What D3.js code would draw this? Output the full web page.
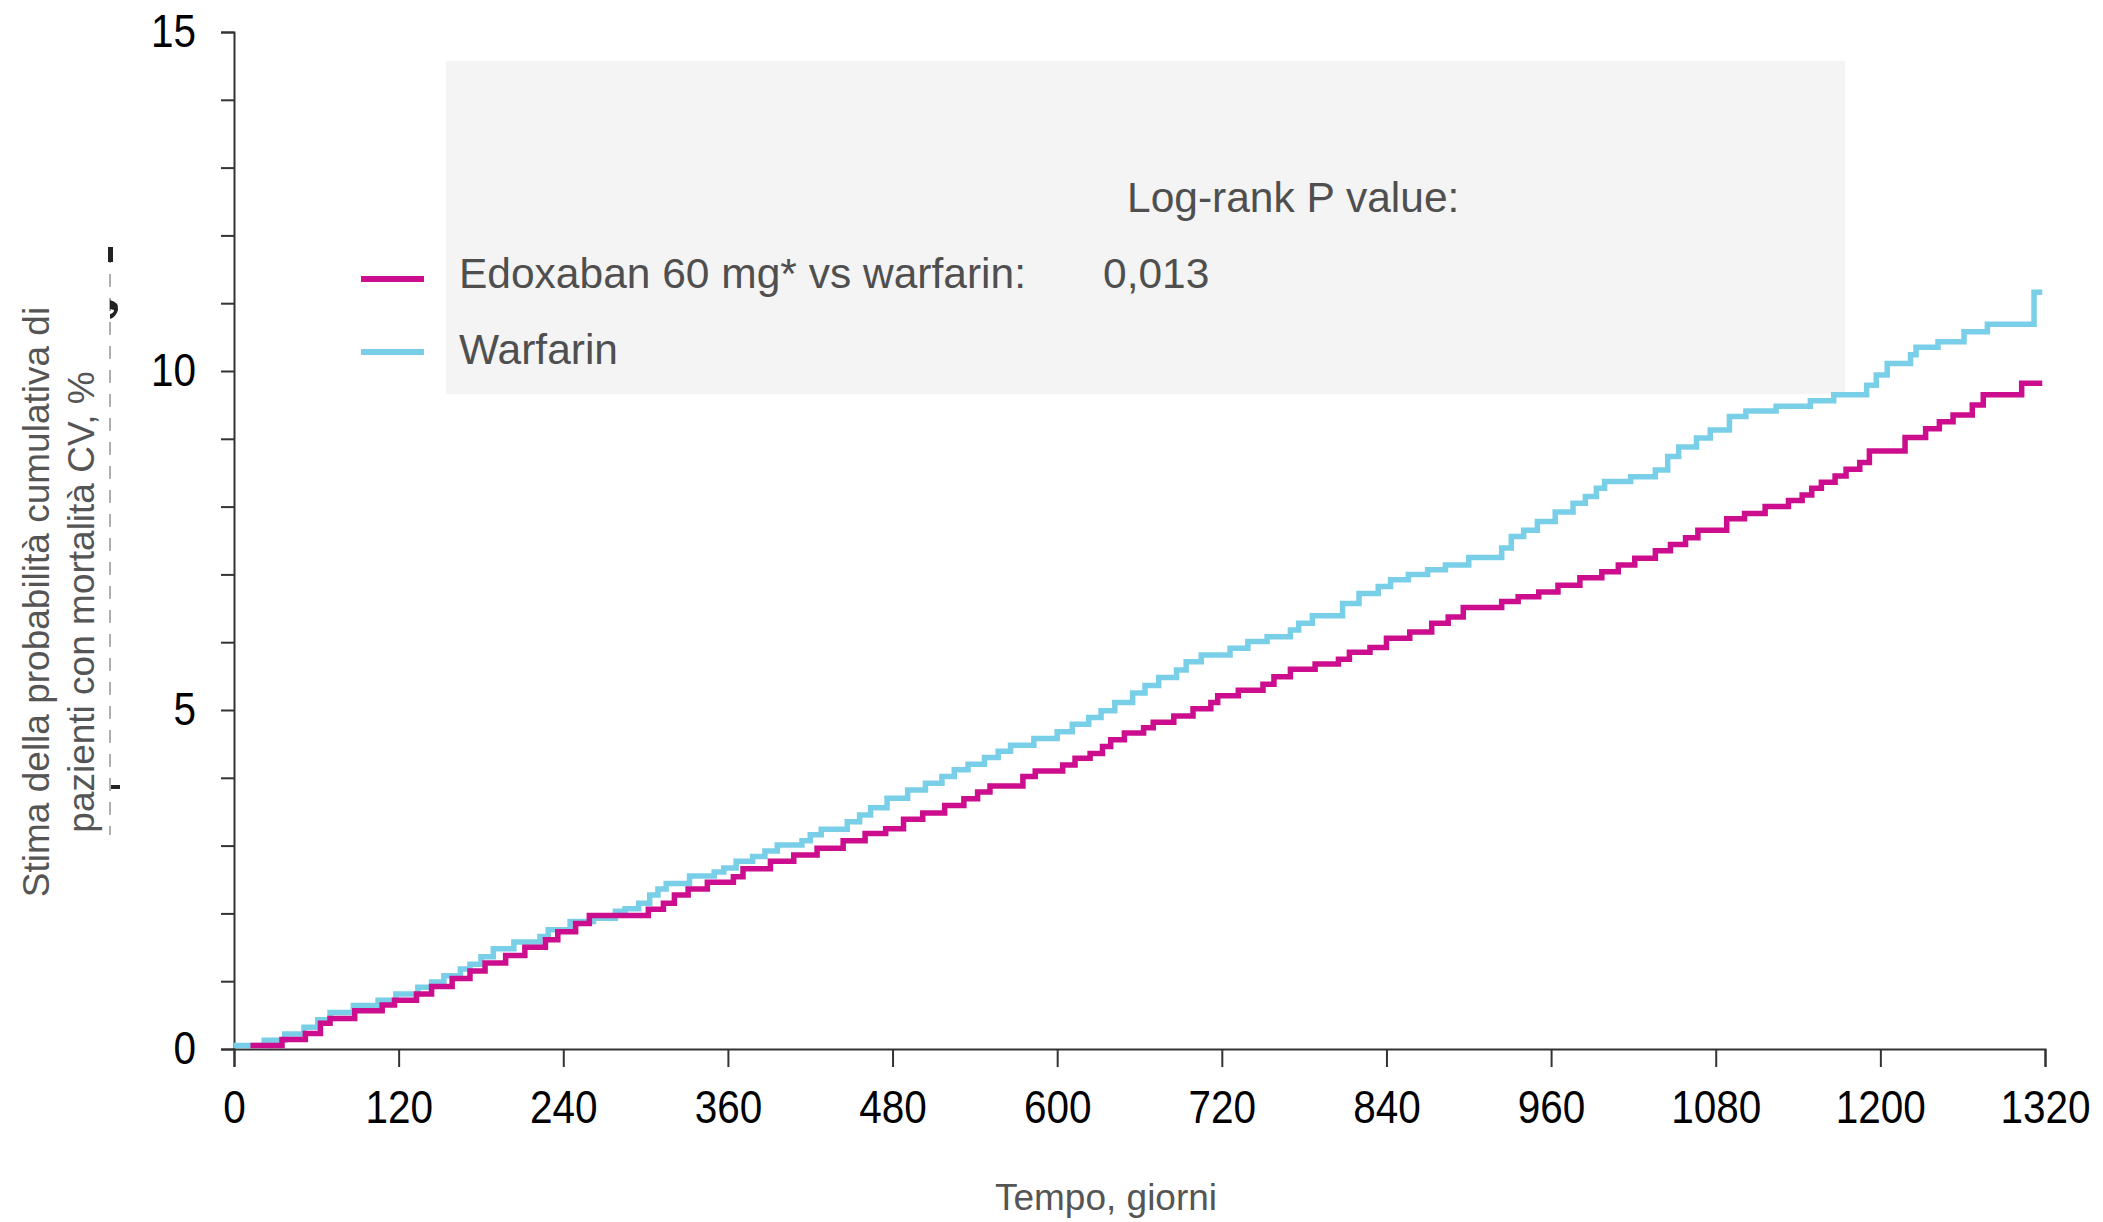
<!DOCTYPE html>
<html>
<head>
<meta charset="utf-8">
<script src="https://cdn.jsdelivr.net/npm/d3@7"></script>
<style>
  html, body { margin: 0; padding: 0; background: #fff; }
  svg { display: block; }
  text { font-family: "Liberation Sans", Arial, sans-serif; }
</style>
</head>
<body>
<svg id="chart" width="2103" height="1222"></svg>
<script>
// Kaplan–Meier cumulative incidence of CV death (%), by treatment arm.
// Each series: event days and the cumulative estimate reached at that day.
const edoxabanDays = [12, 35, 52, 63, 70, 88, 108, 117, 133, 144, 159, 172, 183, 198, 212, 227, 236, 249, 259, 302,
  313, 321, 331, 345, 364, 371, 391, 408, 425, 444, 460, 475, 488, 502, 518, 532, 542, 551, 575, 584,
  604, 613, 624, 633, 639, 649, 663, 670, 685, 699, 712, 717, 732, 750, 758, 770, 788, 805, 813, 828,
  840, 857, 873, 885, 896, 924, 936, 951, 965, 981, 997, 1009, 1021, 1036, 1047, 1058, 1067, 1088, 1101, 1116,
  1133, 1143, 1150, 1157, 1167, 1175, 1185, 1192, 1218, 1233, 1243, 1253, 1267, 1275, 1303, 1318];
const edoxabanRisk = [0.05, 0.14, 0.23, 0.38, 0.45, 0.565, 0.65, 0.72, 0.81, 0.92, 1.04, 1.15, 1.27, 1.38, 1.50, 1.61, 1.73, 1.85, 1.97, 2.06,
  2.15, 2.27, 2.36, 2.46, 2.54, 2.66, 2.77, 2.86, 2.96, 3.07, 3.18, 3.25, 3.39, 3.48, 3.59, 3.69, 3.79, 3.88, 4.02, 4.10,
  4.19, 4.29, 4.36, 4.46, 4.56, 4.66, 4.74, 4.82, 4.91, 5.02, 5.11, 5.21, 5.29, 5.38, 5.49, 5.60, 5.68, 5.75, 5.85, 5.92,
  6.06, 6.15, 6.28, 6.37, 6.51, 6.60, 6.67, 6.74, 6.84, 6.95, 7.04, 7.14, 7.24, 7.35, 7.44, 7.54, 7.65, 7.82, 7.90, 8.00,
  8.09, 8.17, 8.27, 8.36, 8.45, 8.55, 8.65, 8.82, 9.02, 9.15, 9.25, 9.35, 9.50, 9.65, 9.82, 9.82];

const warfarinDays = [0, 22, 37, 51, 61, 70, 87, 105, 118, 134, 144, 153, 165, 172, 180, 189, 204, 223, 229, 245,
  262, 278, 285, 295, 303, 309, 315, 332, 350, 357, 366, 378, 387, 396, 414, 420, 428, 447, 456, 464,
  476, 491, 504, 516, 525, 535, 547, 557, 566, 583, 600, 611, 623, 632, 642, 655, 664, 674, 687, 694,
  705, 726, 739, 753, 770, 776, 786, 808, 820, 834, 843, 856, 870, 883, 900, 924, 931, 940, 950, 963,
  976, 985, 993, 999, 1018, 1036, 1045, 1053, 1066, 1076, 1090, 1102, 1124, 1149, 1166, 1190, 1197, 1205, 1222, 1226,
  1242, 1261, 1278, 1312, 1318];
const warfarinRisk = [0.05, 0.13, 0.22, 0.32, 0.43, 0.54, 0.64, 0.72, 0.81, 0.91, 0.99, 1.08, 1.18, 1.25, 1.36, 1.48, 1.58, 1.66, 1.76, 1.88,
  1.93, 2.03, 2.07, 2.15, 2.27, 2.36, 2.44, 2.55, 2.61, 2.67, 2.77, 2.84, 2.92, 3.01, 3.07, 3.16, 3.24, 3.35, 3.45, 3.56,
  3.70, 3.82, 3.92, 4.02, 4.12, 4.20, 4.30, 4.39, 4.48, 4.58, 4.68, 4.79, 4.89, 4.99, 5.11, 5.25, 5.36, 5.48, 5.59, 5.71,
  5.81, 5.91, 6.01, 6.08, 6.18, 6.28, 6.39, 6.57, 6.72, 6.82, 6.92, 7.00, 7.07, 7.14, 7.25, 7.39, 7.56, 7.65, 7.78, 7.92,
  8.05, 8.15, 8.27, 8.37, 8.44, 8.54, 8.74, 8.88, 9.01, 9.13, 9.33, 9.41, 9.48, 9.56, 9.65, 9.79, 9.94, 10.11, 10.24, 10.35,
  10.43, 10.58, 10.69, 11.16, 11.16];

const xTickValues = [0, 120, 240, 360, 480, 600, 720, 840, 960, 1080, 1200, 1320];
const yTickValues = [0, 1, 2, 3, 4, 5, 6, 7, 8, 9, 10, 11, 12, 13, 14, 15];
const yLabelValues = [0, 5, 10, 15];

const seriesNames = ["Edoxaban 60 mg* vs warfarin:", "Warfarin"];
const seriesColors = ["#cc0e8e", "#79cfe7"];
const pValueTitle = "Log-rank P value:";
const pValueText = "0,013";
const xTitle = "Tempo, giorni";
const yTitleLines = ["Stima della probabilità cumulativa di", "pazienti con mortalità CV, %"];

const svg = d3.select("#chart");

const x = d3.scaleLinear().domain([0, 1320]).range([234, 2045]);
const y = d3.scaleLinear().domain([0, 15]).range([1049, 32]);

// faint remnant of an earlier label beside the y title
const ghost = svg.append("g");
ghost.append("line")
  .attr("x1", 110).attr("x2", 110).attr("y1", 250).attr("y2", 835)
  .attr("stroke", "#9c9c9c").attr("stroke-width", 1.6).attr("stroke-dasharray", "13 11");
ghost.append("rect").attr("x", 108).attr("y", 247).attr("width", 5).attr("height", 15).attr("fill", "#222");
ghost.append("path").attr("d", "M110,300 q9,2 8,10 q-2,7 -8,9 l0,-5 q4,-1 4,-4 l-4,-1 z").attr("fill", "#222");
ghost.append("rect").attr("x", 111).attr("y", 785).attr("width", 9).attr("height", 4).attr("fill", "#222");

// legend panel
const legend = svg.append("g");
legend.append("rect")
  .attr("x", 446).attr("y", 61).attr("width", 1399).attr("height", 333)
  .attr("fill", "#f4f4f4");
legend.append("text")
  .attr("x", 1127).attr("y", 212)
  .attr("font-size", 42.5).attr("fill", "#4f4f4f")
  .text(pValueTitle);
const legendRows = [279, 352];
seriesNames.forEach((name, i) => {
  legend.append("line")
    .attr("x1", 361).attr("x2", 424)
    .attr("y1", legendRows[i]).attr("y2", legendRows[i])
    .attr("stroke", seriesColors[i]).attr("stroke-width", 6);
  legend.append("text")
    .attr("x", 459).attr("y", legendRows[i] + 9 + (i === 0 ? 0 : 3))
    .attr("font-size", 42.5).attr("fill", "#4f4f4f")
    .text(name);
});
legend.append("text")
  .attr("x", 1103).attr("y", 288)
  .attr("font-size", 42.5).attr("fill", "#4f4f4f")
  .text(pValueText);

// axes
const tickFont = 46;
const tickSqueeze = 0.88;

const yAxis = d3.axisLeft(y)
  .tickValues(yTickValues)
  .tickSize(13)
  .tickPadding(25)
  .tickFormat(d => yLabelValues.includes(d) ? String(d) : "");
const gy = svg.append("g").attr("transform", "translate(234,0)").call(yAxis);

const xAxis = d3.axisBottom(x)
  .tickValues(xTickValues)
  .tickSize(18)
  .tickPadding(23)
  .tickFormat(d => String(d));
const gx = svg.append("g").attr("transform", "translate(0,1049)").call(xAxis);

[gx, gy].forEach(g => {
  g.select(".domain").attr("stroke", "#333").attr("stroke-width", 2);
  g.selectAll(".tick line").attr("stroke", "#333").attr("stroke-width", 2);
  g.selectAll(".tick text")
    .attr("font-family", "'Liberation Sans', Arial, sans-serif")
    .attr("font-size", tickFont).attr("fill", "#000")
    .attr("transform", `scale(${tickSqueeze},1)`);
});
// keep the right edge of the y labels in place after the squeeze
gy.selectAll(".tick text").attr("x", -38 / tickSqueeze);

// step curves (warfarin underneath, edoxaban on top)
const stepLine = d3.line()
  .x(d => x(d[0]))
  .y(d => y(d[1]))
  .curve(d3.curveStepAfter);

const warfarinPts = warfarinDays.map((d, i) => [d, warfarinRisk[i]]);
const edoxabanPts = edoxabanDays.map((d, i) => [d, edoxabanRisk[i]]);

svg.append("path")
  .datum(warfarinPts)
  .attr("d", stepLine)
  .attr("fill", "none")
  .attr("stroke", seriesColors[1])
  .attr("stroke-width", 5.5)
  .attr("stroke-linejoin", "miter")
  .attr("stroke-linecap", "butt");

svg.append("path")
  .datum(edoxabanPts)
  .attr("d", stepLine)
  .attr("fill", "none")
  .attr("stroke", seriesColors[0])
  .attr("stroke-width", 5.5)
  .attr("stroke-linejoin", "miter")
  .attr("stroke-linecap", "butt");

// axis titles
svg.append("text")
  .attr("x", 1106).attr("y", 1210)
  .attr("text-anchor", "middle")
  .attr("font-size", 37).attr("fill", "#555")
  .text(xTitle);

const yTitle = svg.append("g");
[49, 94].forEach((bx, i) => {
  yTitle.append("text")
    .attr("transform", `translate(${bx},602) rotate(-90)`)
    .attr("text-anchor", "middle")
    .attr("font-size", 37).attr("fill", "#555")
    .text(yTitleLines[i]);
});
</script>
</body>
</html>
